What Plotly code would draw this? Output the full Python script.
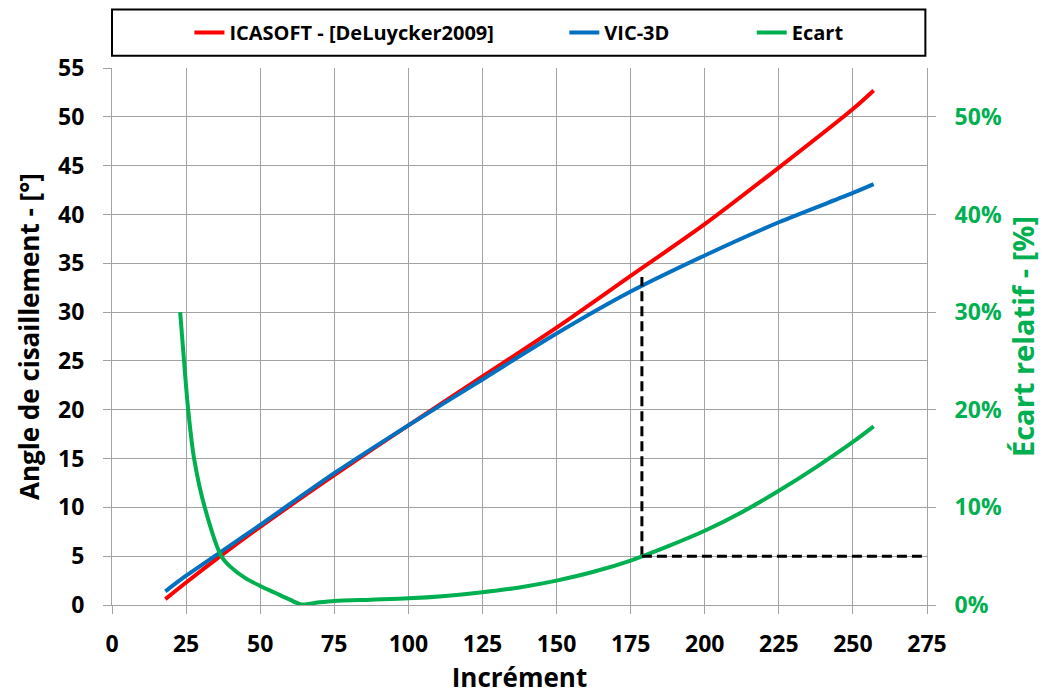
import plotly.graph_objects as go

# Shear angle measured by each method, per increment
inc_icasoft = [18, 25, 37, 50, 75, 100, 125, 150, 175, 200, 225, 250, 257]
angle_icasoft = [0.6, 2.3, 5.1, 8.0, 13.3, 18.4, 23.4, 28.4, 33.7, 39.0, 44.8, 50.8, 52.7]

inc_vic = [18, 25, 37, 50, 75, 100, 125, 150, 175, 200, 225, 250, 257]
angle_vic = [1.4, 3.0, 5.5, 8.2, 13.5, 18.4, 23.1, 27.8, 32.1, 35.8, 39.2, 42.2, 43.1]

# Relative gap between the two methods (fraction)
inc_ecart = [23, 24.3, 25.7, 27.7, 31.3, 36.9, 40, 45, 50, 55, 60, 64, 70, 75, 87.5,
             100, 112.5, 125, 137.5, 150, 162.5, 175, 187.5, 200, 212.5, 225,
             237.5, 250, 257]
ecart = [0.30, 0.25, 0.20, 0.15, 0.10, 0.05, 0.039, 0.0275, 0.0195, 0.0125, 0.0055, 0.0005,
         0.0028, 0.0042, 0.0055, 0.0068, 0.0093, 0.013, 0.018, 0.025, 0.034, 0.0455,
         0.060, 0.076, 0.095, 0.117, 0.141, 0.167, 0.183]

# 5 % threshold and the increment where it is reached
seuil = 0.05
inc_seuil = 178.8
angle_seuil = 33.6
inc_max = 275

series_names = ["ICASOFT - [DeLuycker2009]", "VIC-3D", "Ecart"]
series_colors = ["#FF0000", "#0070C0", "#00B050"]

x_ticks = list(range(0, 276, 25))
y_ticks = list(range(0, 56, 5))
y2_ticks = [0, 0.1, 0.2, 0.3, 0.4, 0.5]

FONT = "Open Sans"
GRID = "#A3A3A3"

fig = go.Figure()

fig.add_trace(go.Scatter(
    x=inc_icasoft, y=angle_icasoft, mode="lines", name=series_names[0],
    line=dict(color=series_colors[0], width=4, shape="spline", smoothing=0.8),
    legend="legend"))
fig.add_trace(go.Scatter(
    x=inc_vic, y=angle_vic, mode="lines", name=series_names[1],
    line=dict(color=series_colors[1], width=4, shape="spline", smoothing=0.8),
    legend="legend2"))
fig.add_trace(go.Scatter(
    x=inc_ecart, y=ecart, mode="lines", name=series_names[2], yaxis="y2",
    line=dict(color=series_colors[2], width=4, shape="spline", smoothing=0.8),
    legend="legend3"))

# Dashed guides marking the 5 % threshold
fig.add_trace(go.Scatter(
    x=[inc_seuil, inc_seuil], y=[seuil * 100, angle_seuil], mode="lines",
    line=dict(color="black", width=3, dash="10px,5px"), showlegend=False))
fig.add_trace(go.Scatter(
    x=[inc_seuil, inc_max], y=[seuil, seuil], mode="lines", yaxis="y2",
    line=dict(color="black", width=3, dash="10px,5px"), showlegend=False))

legend_common = dict(orientation="h", yanchor="middle", y=1.066, xanchor="left",
                     bgcolor="rgba(0,0,0,0)", borderwidth=0,
                     font=dict(family=FONT, size=20, color="black", weight=700),
                     itemwidth=30, tracegroupgap=0)

fig.update_layout(
    width=1055, height=695,
    margin=dict(l=112, r=128, t=68, b=90, autoexpand=False),
    paper_bgcolor="white", plot_bgcolor="white",
    font=dict(family=FONT, color="black"),
    xaxis=dict(
        range=[0, 275], tickvals=x_ticks, showgrid=True, gridcolor=GRID, gridwidth=1,
        showline=True, linecolor=GRID, linewidth=1, ticks="outside", ticklen=8,
        tickcolor=GRID, zeroline=False, ticklabelstandoff=10,
        tickfont=dict(family=FONT, size=23, color="black", weight=700),
        title=dict(text="Incrément", standoff=10,
                   font=dict(family=FONT, size=26, color="black", weight=700)),
    ),
    yaxis=dict(
        range=[0, 55], tickvals=y_ticks, showgrid=True, gridcolor=GRID, gridwidth=1,
        showline=True, linecolor=GRID, linewidth=1, ticks="outside", ticklen=8,
        tickcolor=GRID, zeroline=False, ticklabelstandoff=14,
        tickfont=dict(family=FONT, size=23, color="black", weight=700),
        title=dict(text="Angle de cisaillement - [°]", standoff=10,
                   font=dict(family=FONT, size=26, color="black", weight=700)),
    ),
    yaxis2=dict(
        range=[0, 0.55], tickvals=y2_ticks, tickformat=".0%", overlaying="y", side="right",
        showgrid=False, showline=True, linecolor=GRID, linewidth=1, ticks="outside",
        ticklen=8, tickcolor=GRID, zeroline=False, ticklabelstandoff=14,
        tickfont=dict(family=FONT, size=23, color=series_colors[2], weight=700),
        title=dict(text="Écart relatif - [%]", standoff=12,
                   font=dict(family=FONT, size=29, color=series_colors[2], weight=700)),
    ),
    legend=dict(legend_common, x=0.095),
    legend2=dict(legend_common, x=0.555),
    legend3=dict(legend_common, x=0.785),
    shapes=[dict(type="rect", xref="paper", yref="paper", x0=0, x1=0.998,
                 y0=1.023, y1=1.109, line=dict(color="black", width=2),
                 fillcolor="rgba(0,0,0,0)", layer="above")],
)

fig.write_html("out.html")
